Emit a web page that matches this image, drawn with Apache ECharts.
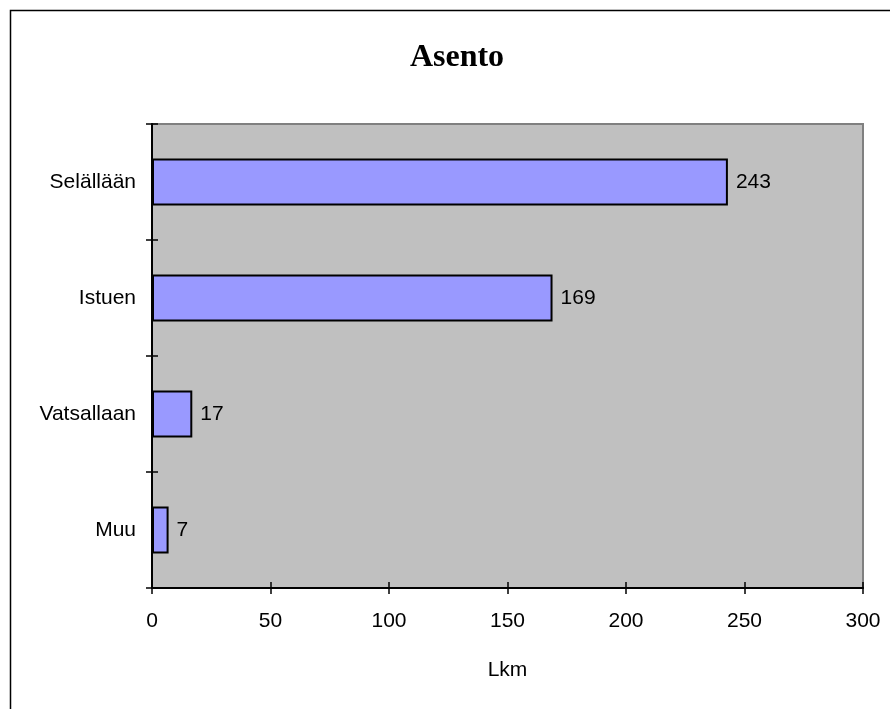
<!DOCTYPE html>
<html>
<head>
<meta charset="utf-8">
<script src="https://cdn.jsdelivr.net/npm/echarts@6/dist/echarts.min.js"></script>
<style>
	html, body { margin: 0; padding: 0; background: #fff; }
	#chart { width: 890px; height: 709px; }
</style>
</head>
<body>
<div id="chart"></div>
<script>
// kategoriat ylhäältä alas
var categories = ['Selällään', 'Istuen', 'Vatsallaan', 'Muu'];
// lukumäärät
var counts = [243, 169, 17, 7];
// x-akselin asteikko
var xTicks = [0, 50, 100, 150, 200, 250, 300];

var labelFont = 'Liberation Sans, Arial, sans-serif';
var chart = echarts.init(document.getElementById('chart'));

chart.setOption({
	animation: false,
	backgroundColor: '#fff',
	title: {
		text: 'Asento',
		left: 452,
		textAlign: 'center',
		top: 37,
		textStyle: {
			fontFamily: 'Liberation Serif, Times New Roman, serif',
			fontWeight: 'bold',
			fontSize: 32,
			color: '#000'
		}
	},
	// ulkokehys
	graphic: [{
		type: 'rect',
		shape: { x: 10.5, y: 10.5, width: 900, height: 800 },
		style: { fill: 'none', stroke: '#000', lineWidth: 1.5 },
		silent: true
	}],
	grid: {
		left: 152,
		top: 124,
		right: 27,
		bottom: 121,
		show: true,
		backgroundColor: '#c0c0c0',
		borderColor: '#808080',
		borderWidth: 2
	},
	xAxis: [{
		type: 'value',
		min: xTicks[0],
		max: xTicks[xTicks.length - 1],
		interval: 50,
		name: 'Lkm',
		nameLocation: 'middle',
		nameGap: 72,
		nameTextStyle: { fontFamily: labelFont, fontSize: 21, color: '#000' },
		axisLine: { show: true, lineStyle: { color: '#000', width: 2 } },
		axisTick: { show: true, length: 6, lineStyle: { color: '#000', width: 1.5 } },
		axisLabel: { margin: 23, fontFamily: labelFont, fontSize: 21, color: '#000' },
		splitLine: { show: false }
	}, {
		// sisäpuoliset tikit, jotta ne ylittävät akselin
		type: 'value',
		position: 'bottom',
		min: xTicks[0],
		max: xTicks[xTicks.length - 1],
		interval: 50,
		axisLine: { show: false },
		axisTick: { show: true, inside: true, length: 6, lineStyle: { color: '#000', width: 1.5 } },
		axisLabel: { show: false },
		splitLine: { show: false }
	}],
	yAxis: [{
		type: 'category',
		data: categories,
		inverse: true,
		axisLine: { show: true, lineStyle: { color: '#000', width: 2 } },
		axisTick: { show: true, length: 6, lineStyle: { color: '#000', width: 1.5 } },
		axisLabel: { margin: 16, fontFamily: labelFont, fontSize: 21, color: '#000' }
	}, {
		type: 'category',
		data: categories,
		inverse: true,
		position: 'left',
		axisLine: { show: false },
		axisTick: { show: true, inside: true, length: 6, lineStyle: { color: '#000', width: 1.5 } },
		axisLabel: { show: false }
	}],
	series: [{
		type: 'bar',
		data: counts,
		barWidth: 47,
		itemStyle: { color: '#9999ff', borderColor: '#000', borderWidth: 2 },
		label: {
			show: true,
			position: 'right',
			distance: 8,
			fontFamily: labelFont,
			fontSize: 21,
			color: '#000'
		}
	}]
});
</script>
</body>
</html>
